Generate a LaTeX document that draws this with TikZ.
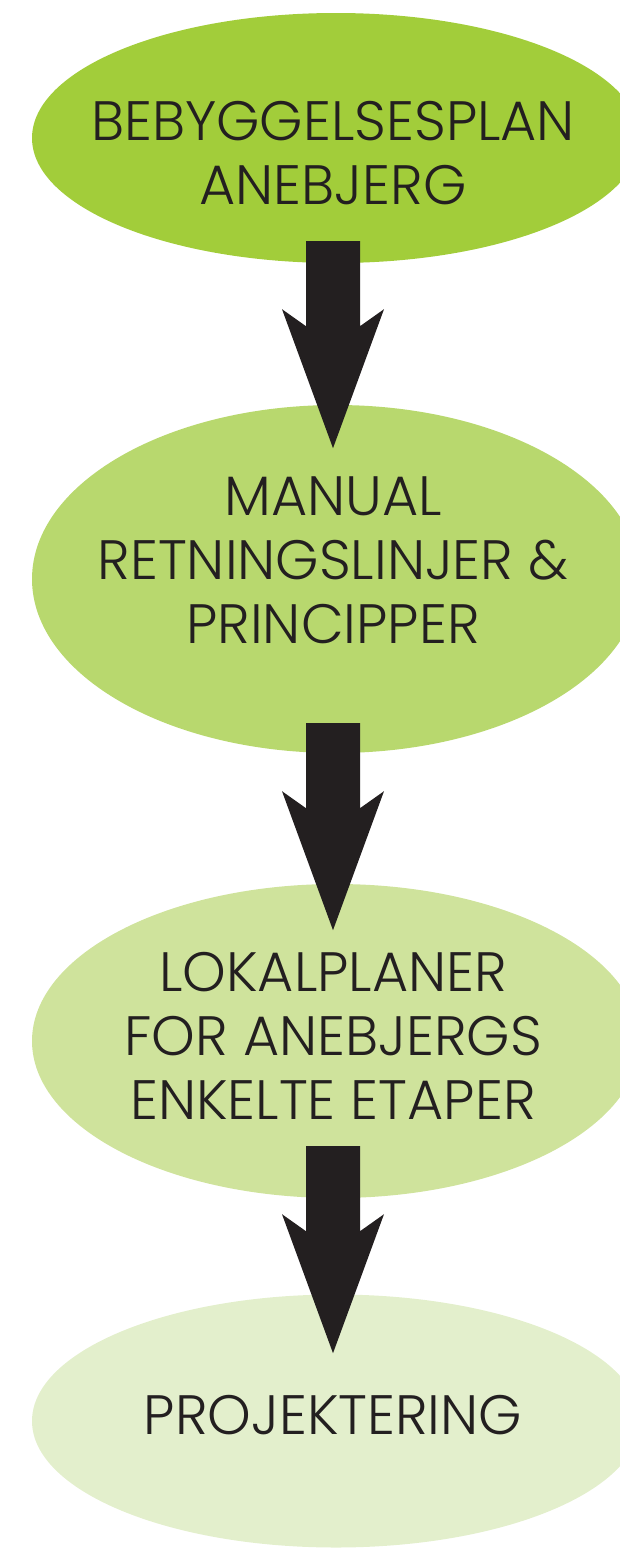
\documentclass[tikz,border=0pt]{standalone}
\usepackage{fontspec}
\setmainfont{Poppins}[UprightFont=* Light]
\usepackage{tikz}
\usetikzlibrary{shapes.geometric, positioning, calc}

\definecolor{stepone}{HTML}{A2CD3A}
\definecolor{steptwo}{HTML}{B8D86E}
\definecolor{stepthree}{HTML}{CFE39C}
\definecolor{stepfour}{HTML}{E3EFCC}
\definecolor{inkdark}{HTML}{231F20}

\begin{document}
\begin{tikzpicture}[
        x=1pt, y=-1pt,
        plan_blob/.style={
            ellipse, draw=none, minimum width=608pt, inner sep=0pt
        },
        plan_text/.style={
            align=center, text=inkdark, inner sep=0pt,
            font=\fontsize{55.5}{64}\selectfont
        },
        flow_arrow/.style={fill=inkdark, draw=none}
    ]

    \useasboundingbox (0,0) rectangle (620,1550);

    % Planning levels (top to bottom)
    \node[plan_blob, fill=stepone, minimum height=250pt] (E1) at (336,138) {};
    \node[plan_blob, fill=steptwo, minimum height=348pt] (E2) at (336,579) {};
    \node[plan_blob, fill=stepthree, minimum height=314pt] (E3) at (336,1041) {};
    \node[plan_blob, fill=stepfour, minimum height=253pt] (E4) at (336,1421) {};

    % Labels
    \node[plan_text] (T1) at ([xshift=-3pt, yshift=-15pt]E1.center) {BEBYGGELSESPLAN\\ANEBJERG};
    \node[plan_text] (T2) at ([xshift=-3pt, yshift=19pt]E2.center) {MANUAL\\RETNINGSLINJER \&\\PRINCIPPER};
    \node[plan_text] (T3) at ([xshift=-3pt, yshift=5pt]E3.center) {LOKALPLANER\\FOR ANEBJERGS\\ENKELTE ETAPER};
    \node[plan_text] (T4) at ([xshift=-3pt, yshift=6pt]E4.center) {PROJEKTERING};

    % Arrow tops, just inside the lower edge of each ellipse
    \coordinate (A1) at ([xshift=-3pt, yshift=22pt]E1.south);
    \coordinate (A2) at ([xshift=-3pt, yshift=30pt]E2.south);
    \coordinate (A3) at ([xshift=-3pt, yshift=52pt]E3.south);

    % Block arrows
    \foreach \a in {A1, A2, A3} {
        \fill[flow_arrow] (\a) ++(-27,0) -- ++(0,85) -- ++(-24,-17) -- ++(51,139)
            -- ++(51,-139) -- ++(-24,17) -- ++(0,-85) -- cycle;
    }

\end{tikzpicture}
\end{document}
